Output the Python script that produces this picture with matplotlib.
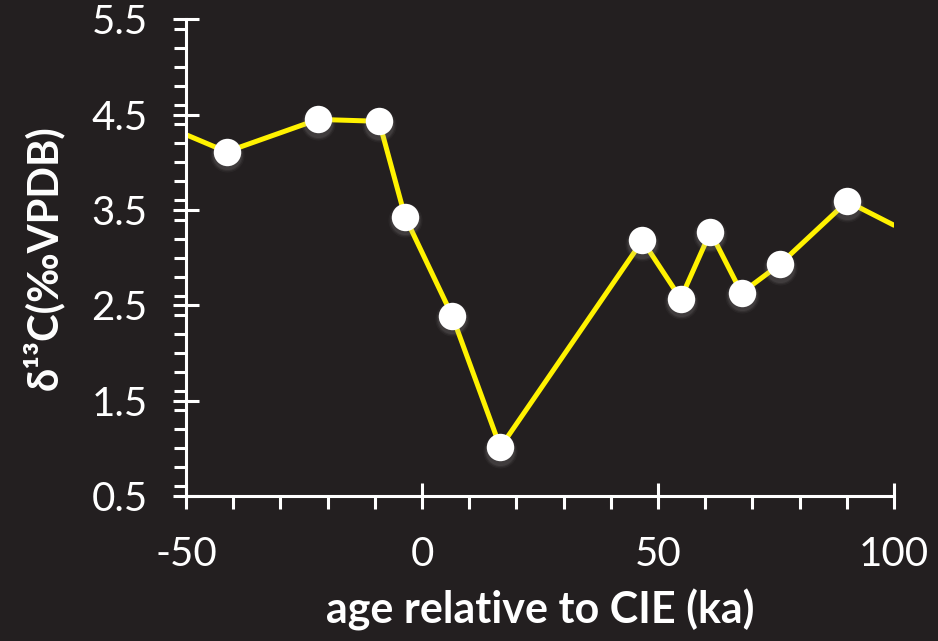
import numpy as np
import matplotlib.pyplot as plt
from matplotlib.ticker import MultipleLocator

plt.rcParams['font.family'] = ['Lato', 'DejaVu Sans']
plt.rcParams['axes.unicode_minus'] = False

# carbon isotope record across the CIE
age = [-41.4, -22.0, -9.1, -3.6, 6.4, 16.6, 46.7, 54.8, 61.1, 67.7, 75.8, 90.1]
d13c = [4.11, 4.45, 4.43, 3.43, 2.39, 1.01, 3.18, 2.57, 3.27, 2.63, 2.93, 3.59]
# line continues to the axis limits on both sides
line_age = [-50] + age + [100]
line_d13c = [4.29] + d13c + [3.34]

bg = '#231f20'
fg = 'white'
yellow = '#fff200'

fig = plt.figure(figsize=(9.38, 6.41), dpi=100, facecolor=bg)
ax = fig.add_axes([0.1983, 0.2262, 0.9531 - 0.1983, 0.9699 - 0.2262])
ax.set_facecolor(bg)

ax.plot(line_age, line_d13c, color=yellow, lw=3.6, solid_capstyle='round', zorder=2)

# soft shadow under each marker
for s, a in [(600, 0.05), (510, 0.07), (440, 0.09)]:
    ax.scatter(age, np.array(d13c) - 0.035, s=s, color='#bbbbbb', alpha=a,
               linewidths=0, zorder=3)
ax.scatter(age, d13c, s=390, color='white', linewidths=0, zorder=4)

ax.set_xlim(-50, 100)
ax.set_ylim(0.5, 5.5)
ax.xaxis.set_major_locator(MultipleLocator(50))
ax.xaxis.set_minor_locator(MultipleLocator(10))
ax.yaxis.set_minor_locator(MultipleLocator(0.2))
ax.set_yticks([0.5, 1.5, 2.5, 3.5, 4.5, 5.5])

for side in ['top', 'right']:
    ax.spines[side].set_visible(False)
for side in ['left', 'bottom']:
    ax.spines[side].set_color(fg)
    ax.spines[side].set_linewidth(2.2)

ax.tick_params(which='major', direction='inout', length=19, width=2.2,
               color=fg, labelcolor=fg, labelsize=29)
ax.tick_params(which='minor', direction='out', length=9, width=2.2, color=fg)
ax.tick_params(axis='x', which='major', pad=19)
ax.tick_params(axis='y', which='major', pad=18)

ax.set_xlabel('age relative to CIE (ka)', color=fg, fontsize=31,
              fontweight='bold', labelpad=12)
ax.set_ylabel('δ¹³C(‰VPDB)', color=fg, fontsize=30, fontweight='bold',
              labelpad=20)

fig.savefig('out.png', dpi=100, facecolor=bg)
